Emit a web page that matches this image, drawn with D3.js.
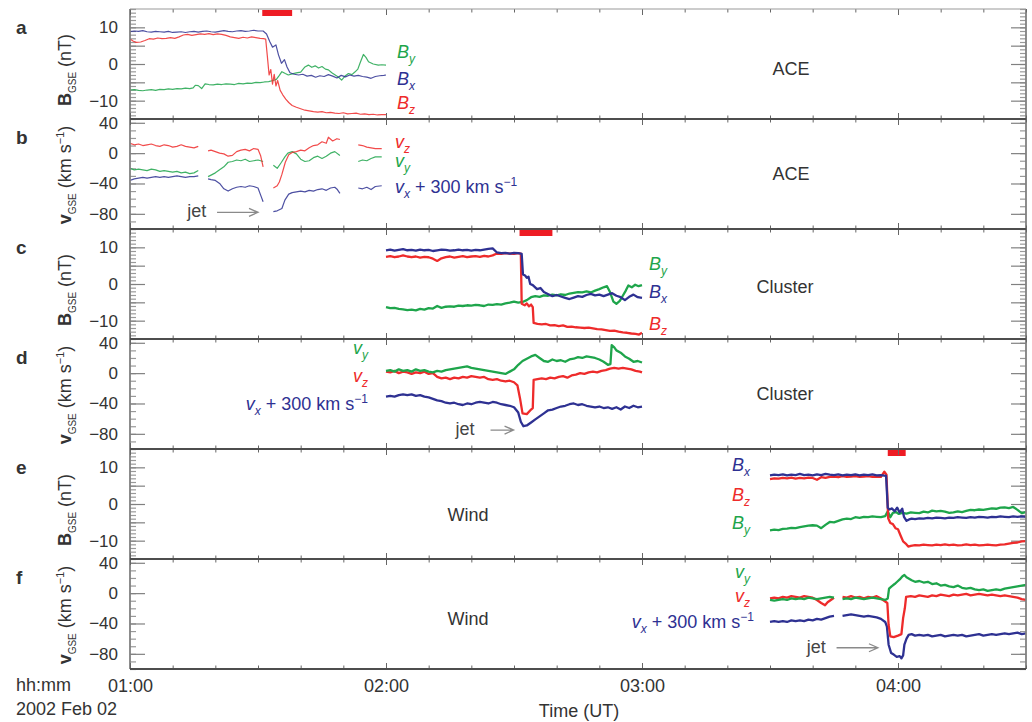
<!DOCTYPE html>
<html lang="en">
<head>
<meta charset="UTF-8">
<title>ACE, Cluster and Wind, 2002 Feb 02</title>
<script src="https://d3js.org/d3.v7.min.js"></script>
<style>
  body { margin: 0; background: #fff; }
  svg text { font-family: "Liberation Sans", Arial, Helvetica, sans-serif; fill: #333; }
</style>
</head>
<body>
<svg width="1032" height="722"></svg>
<script>
// all times are minutes after 01:00 UT, B in nT, v in km/s (vx already shifted by +300)
// null marks a data gap

// ---- ACE magnetic field (panel a)
const aceBx = [[0,8.8],[1,9.0],[2,8.9],[3,9.1],[4,8.8],[5,8.7],[6,8.9],[7,8.8],[8,8.7],[9,8.9],[10,8.6],[11,8.7],[12,8.8],[13,8.6],[14,8.8],[15,8.9],[16,8.7],[17,8.9],[18,9.0],[19,8.8],[20,8.7],[21,8.9],[22,9.1],[23,8.9],[24,8.8],[25,9.0],[26,9.1],[27,8.9],[28,9.0],[29,9.2],[30,9.0],[31.2,9.0],[32,8.2],[32.8,6.0],[33.4,4.6],[34.2,5.2],[34.8,2.5],[35.5,0.2],[36.2,1.2],[36.8,-0.8],[37.5,-2.4],[38.5,-2.8],[39.5,-3.0],[40.5,-2.8],[41.5,-3.3],[42.5,-3.1],[43.5,-3.6],[44.5,-3.2],[45.5,-3.4],[46.5,-2.9],[47.5,-3.3],[48.5,-3.8],[49.5,-3.1],[50.5,-3.5],[51.5,-3.0],[52.5,-3.3],[53.5,-3.1],[54.5,-3.4],[55.5,-3.6],[56.5,-3.9],[57.5,-3.4],[58.5,-3.2],[59.5,-3.1],[60,-3.0]];
const aceBy = [[0,-7.1],[1,-7.0],[2,-7.2],[3,-7.3],[4,-7.1],[5,-7.0],[6,-7.2],[7,-6.9],[8,-7.0],[9,-6.8],[10,-6.9],[11,-6.7],[12,-6.8],[13,-6.6],[14,-6.7],[14.8,-6.5],[15.3,-5.8],[16,-5.9],[16.8,-6.7],[17.6,-5.4],[18.5,-5.6],[19.5,-5.7],[20.5,-5.5],[21.5,-5.6],[22.5,-5.4],[23.5,-5.5],[24.5,-5.6],[25.5,-5.3],[26.5,-5.4],[27.5,-5.2],[28.5,-5.3],[29.5,-5.0],[30.5,-5.1],[31.5,-4.9],[32.5,-4.8],[33.5,-4.5],[34.3,-4.2],[35,-3.1],[35.6,-2.1],[36.4,-2.6],[37.1,-3.0],[38,-2.7],[39,-2.4],[40,-2.2],[41,-0.8],[41.8,-0.3],[42.6,-0.9],[43.4,-0.5],[44.2,-1.1],[45,-0.7],[45.8,-1.4],[46.5,-1.6],[47.3,-2.4],[48.1,-3.0],[48.9,-3.6],[49.6,-4.4],[50.4,-3.3],[51.2,-2.6],[52,-2.9],[52.7,-2.2],[53.4,-1.4],[53.9,0.2],[54.7,2.6],[55.3,1.8],[55.9,0.6],[57,0.0],[58.2,-0.3],[59,-0.2],[60,-0.3]];
const aceBz = [[0,6.8],[0.8,6.2],[1.5,5.9],[2.5,6.0],[3.5,6.4],[4.5,6.9],[5.5,6.8],[6.5,7.1],[7.5,6.9],[8.5,7.0],[9.5,7.2],[10.5,7.0],[11.5,7.4],[12.5,7.9],[13.5,8.1],[14.5,7.8],[15.5,8.0],[16.5,8.2],[17.5,8.1],[18.5,8.3],[19.5,8.0],[20.5,8.2],[21.5,8.1],[22.5,7.8],[23.5,7.4],[24.5,7.2],[25.5,7.0],[26.5,7.3],[27.5,7.1],[28.5,7.4],[29.5,7.2],[30.5,7.0],[31.3,6.9],[31.8,6.8],[32.2,2.0],[32.6,-3.0],[33,-1.5],[33.4,-5.5],[33.8,-2.8],[34.2,-6.0],[34.6,-4.5],[35.2,-7.2],[35.8,-8.4],[36.5,-9.6],[37.2,-10.5],[38,-11.3],[39,-11.8],[40,-12.2],[41,-12.6],[42,-12.8],[43,-13.0],[44,-13.1],[45,-13.0],[46,-13.3],[47,-13.2],[48,-13.4],[49,-13.5],[50,-13.3],[51,-13.6],[52,-13.5],[53,-13.4],[54,-13.7],[55,-13.6],[56,-13.8],[57,-13.7],[58,-13.9],[59,-13.8],[60,-13.8]];

// ---- ACE velocity (panel b)
const aceVz = [[0,13],[1,11],[2,12],[3,10],[4,11],[5,12],[6,10],[7,9],[8,11],[9,10],[10,8],[11,9],[12,11],[13,9],[14,8],[15,7],[16,9],null,
  [18.3,3],[19,4],[20,2],[21,0],[22,-1],[23,-4],[24,-3],[25,2],[26,4],[27,5],[28,3],[29,6],[30,5],[30.6,-3],[31.2,-18],null,
  [33.6,-46],[34.5,-43],[35,-38],[35.6,-28],[36.4,-12],[37.2,-2],[38,1],[39,2],[40,4],[41,3],[42,7],[43,10],[44,11],[45,15],[46,13],[46.5,21],[47.5,16],[48.5,19],[49.2,18],null,
  [53.5,11],[54.5,10],[55.5,8],[56.5,7],[57.5,6],[59,6]];
const aceVy = [[0,-20],[1,-22],[2,-21],[3,-22],[4,-23],[5,-21],[6,-22],[7,-24],[8,-23],[9,-24],[10,-25],[11,-24],[12,-26],[13,-25],[14,-27],[15,-26],[16,-23],null,
  [18.3,-31],[19,-29],[20,-26],[21,-22],[22,-18],[23,-12],[24,-11],[25,-9],[26,-10],[27,-8],[28,-11],[29,-10],[30,-9],[31.2,-11],null,
  [33.6,-16],[34.5,-20],[35.5,-12],[36.3,-5],[37,0],[38,2],[39,-1],[40,-8],[41,-11],[42,-10],[43,-6],[44,-4],[45,-7],[46,-4],[47,0],[48,2],[49.2,-3],null,
  [53.5,-11],[54.5,-9],[55.5,-10],[56.5,-7],[57.5,-5],[59,-5]];
const aceVx = [[0,-36],[1,-34],[2,-33],[3,-32],[4,-33],[5,-32],[6,-31],[7,-32],[8,-31],[9,-32],[10,-31],[11,-30],[12,-31],[13,-32],[14,-31],[15,-31],[16,-30],null,
  [18.3,-34],[19,-35],[20,-36],[21,-40],[22,-47],[23,-50],[24,-47],[25,-45],[26,-44],[27,-45],[28,-43],[29,-44],[30,-46],[30.6,-55],[31.2,-64],null,
  [33.6,-77],[34.5,-76],[35.6,-73],[36.3,-62],[37.2,-54],[38,-52],[39,-51],[40,-50],[41,-51],[42,-49],[43,-50],[44,-48],[45,-47],[46,-49],[47,-46],[48,-45],[48.6,-48],[49.2,-53],null,
  [53.5,-46],[54.5,-47],[55.5,-45],[56.5,-48],[57.5,-44],[59,-43]];

// ---- Cluster magnetic field (panel c)
const cluBx = [[60,9.2],[61,9.4],[62,9.1],[63,9.3],[64,9.5],[65,9.2],[66,9.3],[67,9.1],[68,9.4],[69,9.2],[70,9.3],[71,9.0],[72,9.2],[73,9.4],[74,9.3],[75,9.1],[76,9.2],[77,9.4],[78,9.2],[79,9.3],[80,9.1],[81,9.3],[82,9.2],[83,9.4],[84,9.6],[85,9.7],[86,8.6],[87,8.4],[88,8.5],[89,8.3],[90,8.5],[91,8.4],[91.8,8.2],[92.1,2.6],[92.6,2.3],[93,1.7],[93.4,2.0],[93.8,0.0],[94.4,-0.3],[95.4,-1.4],[96.2,-1.1],[97,-2.2],[97.7,-2.6],[98.4,-3.0],[99,-3.3],[100,-3.0],[101,-3.4],[102,-3.8],[103,-4.1],[104,-3.7],[105,-3.3],[106,-3.5],[107,-3.0],[108,-2.7],[109,-3.1],[110,-2.9],[111,-3.3],[112,-2.9],[113,-2.5],[114,-3.2],[115,-3.6],[116,-4.4],[117,-3.5],[118,-2.9],[119,-3.6],[120,-3.8]];
const cluBy = [[60,-6.3],[61,-6.6],[62,-6.5],[63,-6.8],[64,-6.9],[65,-7.1],[66,-7.0],[67,-7.2],[68,-6.8],[69,-7.0],[70,-6.6],[71,-6.7],[72,-6.0],[73,-6.5],[74,-6.2],[75,-6.1],[76,-6.2],[77,-5.9],[78,-6.0],[79,-5.8],[80,-5.9],[81,-5.7],[82,-5.8],[83,-6.0],[84,-5.6],[85,-5.7],[86,-5.5],[87,-5.6],[88,-5.3],[89,-5.1],[90,-4.8],[91,-5.1],[92,-4.9],[93,-4.4],[94,-3.6],[95,-3.3],[96,-3.5],[97,-3.1],[98,-3.2],[99,-2.9],[100,-3.1],[101,-2.8],[102,-3.0],[103,-2.6],[104,-2.4],[105,-2.2],[106,-2.3],[107,-2.0],[108,-2.3],[109,-1.8],[110,-1.4],[111,-0.9],[111.8,-0.6],[112.5,-2.2],[113.3,-4.8],[114,-5.4],[114.8,-4.6],[115.5,-3.2],[116.2,-1.8],[116.8,-0.4],[117.6,-0.9],[118.4,-0.2],[119.2,-0.6],[120,-0.3]];
const cluBz = [[60,7.4],[61,7.6],[62,7.3],[63,7.5],[64,7.8],[65,7.5],[66,7.3],[67,7.5],[68,7.2],[69,7.4],[70,7.3],[71,6.9],[72,6.3],[73,7.0],[74,7.3],[75,7.5],[76,7.2],[77,7.4],[78,7.6],[79,7.3],[80,7.5],[81,7.6],[82,7.4],[83,7.7],[84,7.5],[85,7.8],[86,8.3],[87,8.2],[88,8.4],[89,8.3],[90,8.2],[91,8.4],[91.6,8.3],[91.8,-5.4],[92.5,-5.8],[93,-5.3],[93.5,-6.1],[94,-5.6],[94.4,-6.3],[94.6,-10.6],[95.5,-10.9],[96.5,-11.0],[97.5,-10.9],[98.5,-11.3],[99.5,-11.2],[100.5,-11.5],[101.5,-11.3],[102.5,-11.7],[103.5,-11.6],[104.5,-11.8],[105.5,-11.9],[106.5,-12.0],[107.5,-11.9],[108.5,-12.1],[109.5,-12.3],[110.5,-12.4],[111.5,-12.6],[112.5,-12.8],[113.5,-12.7],[114.5,-13.0],[115.5,-13.2],[116.5,-13.3],[117.5,-13.5],[118.5,-13.6],[119.3,-13.8],[120,-13.3]];

// ---- Cluster velocity (panel d)
const cluVx = [[60,-31],[61,-30],[62,-31],[63,-29],[64,-28],[65,-29],[66,-28],[67,-30],[68,-29],[69,-31],[70,-32],[71,-34],[72,-36],[73,-37],[74,-39],[75,-40],[76,-39],[77,-41],[78,-42],[79,-40],[80,-41],[81,-39],[82,-38],[83,-39],[84,-40],[85,-38],[86,-39],[87,-41],[88,-42],[89,-43],[90,-45],[91,-52],[91.6,-64],[92.2,-70],[93,-69],[94,-65],[95,-61],[96,-57],[97,-53],[98,-49],[99,-48],[100,-46],[101,-44],[102,-43],[103,-41],[104,-40],[105,-42],[106,-41],[107,-43],[108,-44],[109,-45],[110,-44],[111,-46],[112,-45],[113,-47],[114,-45],[115,-48],[116,-44],[117,-46],[118,-43],[119,-45],[120,-44]];
const cluVy = [[60,3],[61,4],[62,2],[63,5],[64,3],[65,4],[66,2],[67,5],[68,3],[69,4],[70,2],[71,1],[72,3],[73,2],[74,4],[75,5],[76,6],[77,7],[78,8],[79,9],[80,7],[81,6],[82,5],[83,4],[84,3],[85,2],[86,1],[87,0],[88,-1],[89,2],[90,5],[91,11],[92,16],[93,19],[94,22],[95,24],[96,20],[97,16],[98,15],[99,18],[100,16],[101,17],[102,15],[103,18],[104,19],[105,21],[106,20],[107,22],[108,21],[109,20],[110,18],[111,15],[112,11],[112.6,12],[112.9,37],[113.5,34],[114,30],[115,27],[116,22],[117,19],[118,15],[119,16],[120,14]];
const cluVz = [[60,2],[61,1],[62,3],[63,0],[64,2],[65,1],[66,-1],[67,1],[68,0],[69,2],[70,-1],[71,0],[72,-5],[73,-7],[74,-6],[75,-8],[76,-6],[77,-7],[78,-5],[79,-6],[80,-4],[81,-5],[82,-6],[83,-5],[84,-8],[85,-9],[86,-8],[87,-10],[88,-11],[89,-10],[90,-12],[90.8,-16],[91.4,-33],[92,-53],[93,-54],[94,-48],[94.4,-46],[94.6,-9],[95.5,-8],[96.5,-7],[97.5,-8],[98.5,-6],[99.5,-7],[100.5,-5],[101.5,-4],[102.5,-6],[103.5,-3],[104.5,-2],[105.5,0],[106.5,-1],[107.5,1],[108.5,2],[109.5,1],[110.5,3],[111.5,4],[112.5,6],[113.5,7],[114.5,6],[115.5,7],[116.5,6],[117.5,5],[118.5,3],[119.5,2],[120,1]];

// ---- Wind magnetic field (panel e)
const wndBx = [[150,7.8],[151,8.0],[152,7.9],[153,8.1],[154,7.8],[155,8.0],[156,7.9],[157,8.2],[158,7.9],[159,8.0],[160,7.8],[161,8.1],[162,7.9],[163,8.2],[164,8.0],[165,7.9],[166,8.1],[167,7.8],[168,8.0],[169,7.9],[170,8.1],[171,7.8],[172,8.0],[173,7.9],[174,8.1],[175,7.8],[176,7.9],[177.2,7.7],[177.6,-1.0],[178,-1.5],[178.6,-1.2],[179.2,-2.0],[179.8,-1.0],[180.4,-2.3],[181,-1.3],[181.4,-3.5],[182,-4.6],[182.6,-4.2],[183.2,-4.0],[184,-4.1],[185,-3.9],[186,-4.0],[187,-3.8],[188,-3.9],[189,-3.7],[190,-3.8],[191,-3.9],[192,-3.7],[193,-3.8],[194,-3.6],[195,-3.7],[196,-3.8],[197,-3.6],[198,-3.7],[199,-3.5],[200,-3.6],[201,-3.7],[202,-3.5],[203,-3.6],[204,-3.4],[205,-3.5],[206,-3.6],[207,-3.4],[208,-3.5],[209,-3.4],[210,-3.5]];
const wndBy = [[150,-7.2],[151,-7.0],[152,-7.1],[153,-6.8],[154,-6.7],[155,-6.5],[156,-6.6],[157,-6.3],[158,-6.1],[159,-5.9],[160,-5.8],[161,-5.9],[162,-6.6],[163,-5.7],[164,-4.9],[165,-5.0],[166,-4.6],[167,-4.2],[168,-4.0],[169,-4.1],[170,-3.6],[171,-3.8],[172,-3.5],[173,-3.6],[174,-3.4],[175,-3.5],[176,-3.6],[177,-3.3],[177.6,-2.0],[178.2,-3.6],[178.8,-2.4],[179.5,-2.2],[180.2,-2.7],[181,-2.4],[182,-2.6],[183,-2.3],[184,-2.4],[185,-2.5],[186,-2.1],[187,-2.3],[188,-1.8],[189,-2.0],[190,-1.9],[191,-2.1],[192,-2.4],[193,-2.3],[194,-2.0],[195,-2.2],[196,-1.9],[197,-1.6],[198,-1.7],[199,-1.5],[200,-1.6],[201,-1.4],[202,-1.2],[203,-1.3],[204,-1.0],[205,-0.9],[206,-1.1],[207,-0.8],[208,-1.6],[209,-2.5],[210,-2.2]];
const wndBz = [[150,6.8],[151,7.0],[152,6.9],[153,7.1],[154,7.0],[155,7.2],[156,6.9],[157,7.1],[158,7.0],[159,7.2],[160,7.1],[161,6.6],[162,7.3],[163,7.1],[164,7.4],[165,7.5],[166,7.3],[167,7.6],[168,7.4],[169,7.5],[170,7.6],[171,7.4],[172,7.5],[173,7.6],[174,7.4],[175,7.5],[176,7.4],[176.8,8.8],[177.3,8.0],[177.7,-3.9],[178.2,-5.2],[178.8,-5.5],[179.4,-6.6],[180,-6.9],[180.6,-8.6],[181.2,-10.2],[181.8,-10.8],[182.4,-11.6],[183,-11.4],[184,-11.2],[185,-11.3],[186,-11.1],[187,-11.2],[188,-11.3],[189,-11.1],[190,-11.2],[191,-11.0],[192,-11.2],[193,-11.1],[194,-11.3],[195,-11.2],[196,-11.0],[197,-11.2],[198,-11.1],[199,-11.3],[200,-11.2],[201,-11.1],[202,-11.2],[203,-11.3],[204,-11.1],[205,-11.0],[206,-10.8],[207,-10.6],[208,-10.5],[209,-10.2],[210,-10.1]];

// ---- Wind velocity (panel f)
const wndVx = [[150,-38],[151,-37],[152,-38],[153,-37],[154,-38],[155,-36],[156,-37],[157,-36],[158,-37],[159,-35],[160,-36],[161,-34],[162,-35],[163,-33],[164,-31],[165,-30],null,
  [167,-30],[168,-29],[169,-28],[170,-29],[171,-30],[172,-31],[173,-30],[174,-31],[175,-32],[176,-34],[177,-38],[177.4,-44],[177.8,-68],[178.4,-79],[179,-81],[179.7,-84],[180.4,-83],[180.8,-86],[181.2,-82],[181.5,-68],[182,-60],[182.5,-55],[183.2,-54],[184,-56],[185,-55],[186,-56],[187,-55],[188,-57],[189,-56],[190,-55],[191,-57],[192,-56],[193,-55],[194,-56],[195,-55],[196,-57],[197,-56],[198,-55],[199,-54],[200,-56],[201,-55],[202,-54],[203,-55],[204,-54],[205,-53],[206,-54],[207,-53],[208,-52],[209,-54],[210,-53]];
const wndVy = [[150,-9],[151,-10],[152,-9],[153,-8],[154,-9],[155,-7],[156,-8],[157,-7],[158,-8],[159,-6],[160,-7],[161,-8],[162,-7],[163,-6],[164,-5],[165,-6],null,
  [167,-8],[168,-7],[169,-8],[170,-6],[171,-7],[172,-8],[173,-7],[174,-6],[175,-7],[176,-8],[177,-9],[177.6,-7],[177.9,6],[178.5,9],[179.2,12],[179.8,15],[180.4,18],[181,22],[181.5,24],[182,21],[182.6,19],[183.2,17],[184,15],[185,16],[186,14],[187,15],[188,12],[189,13],[190,10],[191,11],[192,9],[193,8],[194,10],[195,7],[196,6],[197,7],[198,5],[199,4],[200,5],[201,3],[202,4],[203,5],[204,4],[205,6],[206,7],[207,8],[208,9],[209,10],[210,11]];
const wndVz = [[150,-7],[151,-6],[152,-7],[153,-5],[154,-6],[155,-4],[156,-5],[157,-6],[158,-4],[159,-5],[160,-6],[161,-9],[162,-13],[162.9,-16],[163.5,-12],[164,-10],[165,-6],null,
  [167,-5],[168,-6],[169,-4],[170,-6],[171,-5],[172,-7],[173,-5],[174,-6],[175,-4],[176,-7],[177,-11],[177.5,-13],[177.8,-42],[178.2,-57],[179,-58],[180,-56],[180.8,-54],[181.2,-33],[181.6,-20],[181.9,-5],[183,-4],[184,-5],[185,-3],[186,-4],[187,-5],[188,-3],[189,-4],[190,-2],[191,-3],[192,-4],[193,-2],[194,-3],[195,-2],[196,-1],[197,-3],[198,-2],[199,-1],[200,-2],[201,-3],[202,-2],[203,-3],[204,-4],[205,-3],[206,-4],[207,-5],[208,-6],[209,-8],[210,-9]];

// red bars: the interval plotted in detail elsewhere [start, end] in minutes
const markA = [31, 38];
const markC = [91.3, 99];
const markE = [177.6, 181.8];

// "jet" arrows: [text start, arrow start, arrow end] in minutes, and the level in km/s
const jetB = [13.4, 20.4, 30.0, -78];
const jetD = [76.3, 84.5, 89.9, -75];
const jetF = [158.6, 165.6, 175.3, -72];

const hourTicks = ["01:00", "02:00", "03:00", "04:00"];

// ---------------------------------------------------------------------------
const svg = d3.select("svg");
const left = 130, right = 1026, top0 = 9, ph = 110;
const t0 = Date.UTC(2002, 1, 2, 1, 0);
const at = m => new Date(t0 + m * 60000);
const x = d3.scaleUtc().domain([at(0), at(210)]).range([left, right]);

const BLUE = "#2e3192", RED = "#ee2b2b", GREEN = "#1ea54b";

function rich(sel, px, py, parts, o = {}) {
  const t = sel.append("text").attr("x", px).attr("y", py)
    .attr("text-anchor", o.anchor || "start")
    .style("font-size", (o.size || 18) + "px");
  if (o.color) t.style("fill", o.color);
  if (o.rotate) t.attr("transform", `rotate(-90,${px},${py})`);
  let off = 0;
  parts.forEach(p => {
    const shift = p.sub ? 5 : p.sup ? -7 : 0;
    const s = t.append("tspan").text(p.t).attr("dy", shift - off);
    off = shift;
    if (p.sub || p.sup) s.style("font-size", (p.fs || 12) + "px");
    if (p.i) s.style("font-style", "italic");
    if (p.b) s.style("font-weight", "bold");
  });
  return t;
}

const lbB = c => [{ t: "B", i: 1 }, { t: c, i: 1, sub: 1 }];
const lbV = c => [{ t: "v", i: 1 }, { t: c, i: 1, sub: 1 }];
const lbVx = [{ t: "v", i: 1 }, { t: "x", i: 1, sub: 1 }, { t: " + 300 km s" }, { t: "−1", sup: 1 }];

const panels = [
  { id: "a", kind: "B", site: "ACE", sx: 791, sy: 75, lw: 1.2, mark: markA,
    series: [[aceBy, GREEN], [aceBz, RED], [aceBx, BLUE]],
    labels: [[lbB("y"), GREEN, 397, 58, "start"], [lbB("x"), BLUE, 397, 85, "start"], [lbB("z"), RED, 397, 109, "start"]] },
  { id: "b", kind: "v", site: "ACE", sx: 791, sy: 180, lw: 1.2, jet: jetB,
    series: [[aceVy, GREEN], [aceVx, BLUE], [aceVz, RED]],
    labels: [[lbV("z"), RED, 395, 148, "start"], [lbV("y"), GREEN, 395, 167, "start"], [lbVx, BLUE, 395, 193, "start"]] },
  { id: "c", kind: "B", site: "Cluster", sx: 785, sy: 293, lw: 2.3, mark: markC,
    series: [[cluBy, GREEN], [cluBz, RED], [cluBx, BLUE]],
    labels: [[lbB("y"), GREEN, 649, 270, "start"], [lbB("x"), BLUE, 649, 298, "start"], [lbB("z"), RED, 649, 330, "start"]] },
  { id: "d", kind: "v", site: "Cluster", sx: 785, sy: 400, lw: 2.3, jet: jetD,
    series: [[cluVx, BLUE], [cluVz, RED], [cluVy, GREEN]],
    labels: [[lbV("y"), GREEN, 368, 354, "end"], [lbV("z"), RED, 368, 382, "end"], [lbVx, BLUE, 368, 410, "end"]] },
  { id: "e", kind: "B", site: "Wind", sx: 468, sy: 521, lw: 2.3, mark: markE,
    series: [[wndBy, GREEN], [wndBz, RED], [wndBx, BLUE]],
    labels: [[lbB("x"), BLUE, 750, 471, "end"], [lbB("z"), RED, 750, 501, "end"], [lbB("y"), GREEN, 750, 529, "end"]] },
  { id: "f", kind: "v", site: "Wind", sx: 468, sy: 625, lw: 2.3, jet: jetF,
    series: [[wndVx, BLUE], [wndVz, RED], [wndVy, GREEN]],
    labels: [[lbV("y"), GREEN, 750, 578, "end"], [lbV("z"), RED, 750, 602, "end"], [lbVx, BLUE, 754, 628, "end"]] }
];

const defs = svg.append("defs");

panels.forEach((p, i) => {
  const top = top0 + i * ph, bot = top + ph;
  const y = d3.scaleLinear().domain(p.kind === "B" ? [-15, 15] : [-100, 45]).range([bot, top]);
  const g = svg.append("g");

  // y ticks, inward on both sides
  const minor = p.kind === "B" ? d3.range(-15, 16, 1) : d3.range(-100, 46, 10);
  const major = p.kind === "B" ? [-10, -5, 0, 5, 10] : [-80, -40, 0, 40];
  const labels = p.kind === "B" ? [-10, 0, 10] : [-80, -40, 0, 40];
  [[minor, 6, "#999"], [major, 15, "#808080"]].forEach(([vals, len, col]) => {
    g.append("g").attr("transform", `translate(${left},0)`)
      .call(d3.axisLeft(y).tickValues(vals).tickSize(-len).tickFormat(""))
      .call(a => a.select(".domain").remove())
      .call(a => a.selectAll("line").attr("stroke", col).attr("stroke-width", 1.2));
    g.append("g").attr("transform", `translate(${right},0)`)
      .call(d3.axisRight(y).tickValues(vals).tickSize(-len).tickFormat(""))
      .call(a => a.select(".domain").remove())
      .call(a => a.selectAll("line").attr("stroke", col).attr("stroke-width", 1.2));
  });
  g.append("g").attr("transform", `translate(${left},0)`)
    .call(d3.axisLeft(y).tickValues(labels).tickSize(0).tickPadding(12).tickFormat(d3.format("d")))
    .call(a => a.select(".domain").remove())
    .call(a => a.selectAll("text").style("font-size", "17px").style("font-family", null).attr("fill", null));

  // axis title
  if (p.kind === "B") {
    rich(g, 71, top + 61, [{ t: "B", b: 1 }, { t: "GSE", sub: 1, fs: 10 }, { t: " (nT)" }], { rotate: true, anchor: "middle" });
  } else {
    rich(g, 71, top + 56, [{ t: "v", b: 1 }, { t: "GSE", sub: 1, fs: 10 }, { t: " (km s" }, { t: "−1", sup: 1, fs: 11 }, { t: ")" }], { rotate: true, anchor: "middle" });
  }
  g.append("text").attr("x", 16).attr("y", top + 25).text(p.id)
    .style("font-size", "19px").style("font-weight", "bold");

  // data
  defs.append("clipPath").attr("id", "clip" + p.id)
    .append("rect").attr("x", left).attr("y", top).attr("width", right - left).attr("height", ph);
  const line = d3.line().defined(d => d !== null).x(d => x(at(d[0]))).y(d => y(d[1]));
  const dg = g.append("g").attr("clip-path", `url(#clip${p.id})`);
  p.series.forEach(([data, col]) => {
    dg.append("path").attr("d", line(data)).attr("fill", "none")
      .attr("stroke", col).attr("stroke-width", p.lw).attr("stroke-linejoin", "round")
      .attr("opacity", p.lw < 1.5 ? 0.85 : 1);
  });

  if (p.mark) {
    g.append("rect").attr("x", x(at(p.mark[0]))).attr("y", top + 1)
      .attr("width", x(at(p.mark[1])) - x(at(p.mark[0]))).attr("height", 6).attr("fill", "#ee1c24");
  }

  if (p.jet) {
    const [ts, a0, a1, lev] = p.jet;
    const yy = y(lev), xa = x(at(a0)), xb = x(at(a1));
    g.append("text").attr("x", x(at(ts))).attr("y", yy + 5).text("jet").style("font-size", "18px").style("fill", "#444");
    g.append("path").attr("d", `M${xa},${yy}H${xb}M${xb - 9},${yy - 4}L${xb},${yy}L${xb - 9},${yy + 4}`)
      .attr("fill", "none").attr("stroke", "#8a8a8a").attr("stroke-width", 1.3);
  }

  g.append("text").attr("x", p.sx).attr("y", p.sy).attr("text-anchor", "middle").text(p.site).style("font-size", "18px");
  p.labels.forEach(([parts, col, lx, ly, anc]) => rich(g, lx, ly, parts, { color: col, anchor: anc }));
});

// frame: verticals, panel borders with time ticks
svg.append("line").attr("x1", left).attr("x2", left).attr("y1", top0).attr("y2", top0 + 6 * ph)
  .attr("stroke", "#808080").attr("stroke-width", 1.8);
svg.append("line").attr("x1", right).attr("x2", right).attr("y1", top0).attr("y2", top0 + 6 * ph)
  .attr("stroke", "#808080").attr("stroke-width", 1.8);

d3.range(7).forEach(k => {
  const yb = top0 + k * ph;
  const frame = svg.append("g").attr("transform", `translate(0,${yb})`);
  [[d3.utcMinute.every(10), 3.5], [d3.utcHour.every(1), 6]].forEach(([iv, len]) => {
    if (k < 6) frame.append("g").call(d3.axisBottom(x).ticks(iv).tickSize(len).tickFormat(""))
      .call(a => a.select(".domain").remove()).call(a => a.selectAll("line").attr("stroke", "#666"));
    if (k > 0) frame.append("g").call(d3.axisTop(x).ticks(iv).tickSize(len).tickFormat(""))
      .call(a => a.select(".domain").remove()).call(a => a.selectAll("line").attr("stroke", "#666"));
  });
  frame.append("line").attr("x1", left).attr("x2", right)
    .attr("stroke", k === 0 ? "#9a9a9a" : "#4d4d4d").attr("stroke-width", k === 0 ? 1.2 : 2.2);
});

// time labels
svg.append("g").attr("transform", `translate(0,${top0 + 6 * ph})`)
  .call(d3.axisBottom(x).ticks(d3.utcHour.every(1)).tickSize(0).tickPadding(10)
    .tickFormat((d, i) => hourTicks[i]))
  .call(a => a.select(".domain").remove())
  .call(a => a.selectAll("text").style("font-size", "18px").style("font-family", null).attr("fill", null));

svg.append("text").attr("x", 16).attr("y", 691).text("hh:mm").style("font-size", "18px");
svg.append("text").attr("x", 16).attr("y", 715).text("2002 Feb 02").style("font-size", "18px");
rich(svg, 579, 717, [{ t: "Time (" }, { t: "UT", fs: 13 }, { t: ")" }], { anchor: "middle" });
</script>
</body>
</html>
